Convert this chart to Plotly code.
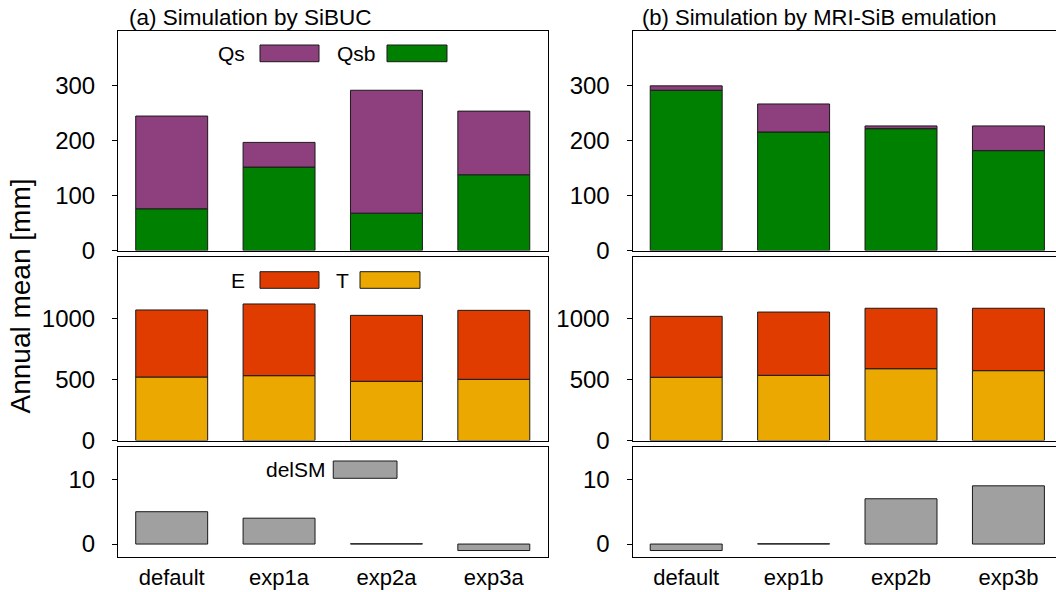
import plotly.graph_objects as go

# ---- data -----------------------------------------------------------------
cats_a = ["default", "exp1a", "exp2a", "exp3a"]
cats_b = ["default", "exp1b", "exp2b", "exp3b"]

# runoff components [mm]
qsb_a = [76, 152, 68, 138]
qs_a = [169, 45, 224, 116]
qsb_b = [292, 216, 222, 182]
qs_b = [8, 51, 5, 45]

# evaporation / transpiration [mm]
t_a = [519, 530, 484, 500]
e_a = [548, 586, 539, 564]
t_b = [517, 533, 587, 571]
e_b = [498, 517, 494, 510]

# change in soil moisture [mm]
delsm_a = [5.0, 4.0, 0.05, -1.0]
delsm_b = [-1.0, 0.05, 7.0, 9.0]

top_ticks = [0, 100, 200, 300]
mid_ticks = [0, 500, 1000]
bot_ticks = [0, 10]

# ---- style ----------------------------------------------------------------
C_QS = "#8E3F7E"
C_QSB = "#008000"
C_E = "#E03C00"
C_T = "#EAA800"
C_DSM = "#A0A0A0"
FONT = "Liberation Sans"
W, H = 1056, 592

BAR_W = 0.67
OUTLINE = dict(color="#1a1a1a", width=1)

fig = go.Figure()


def add_bar(x, y, color, xa, ya, name):
    fig.add_trace(go.Bar(
        x=x, y=y, name=name, width=BAR_W,
        marker=dict(color=color, line=OUTLINE),
        xaxis=xa, yaxis=ya, showlegend=False,
    ))


# column (a)
add_bar(cats_a, qsb_a, C_QSB, "x", "y", "Qsb")
add_bar(cats_a, qs_a, C_QS, "x", "y", "Qs")
add_bar(cats_a, t_a, C_T, "x2", "y2", "T")
add_bar(cats_a, e_a, C_E, "x2", "y2", "E")
add_bar(cats_a, delsm_a, C_DSM, "x3", "y3", "delSM")
# column (b)
add_bar(cats_b, qsb_b, C_QSB, "x4", "y4", "Qsb")
add_bar(cats_b, qs_b, C_QS, "x4", "y4", "Qs")
add_bar(cats_b, t_b, C_T, "x5", "y5", "T")
add_bar(cats_b, e_b, C_E, "x5", "y5", "E")
add_bar(cats_b, delsm_b, C_DSM, "x6", "y6", "delSM")

# ---- panel geometry (pixels -> paper) --------------------------------------
col_a = [118 / W, 547.5 / W]
col_b = [632.5 / W, 1.0]
row_top = [1 - 250.5 / H, 1 - 31 / H]
row_mid = [1 - 440.5 / H, 1 - 257 / H]
row_bot = [1 - 557 / H, 1 - 447 / H]

xrange_a = [-0.5, 3.5]
xrange_b = [-0.5, 3.443]


def xaxis(domain, anchor, rng, labels):
    return dict(
        domain=domain, anchor=anchor, range=rng, type="category",
        showline=True, linecolor="black", linewidth=1, mirror=True,
        ticks="", showticklabels=labels, showgrid=False, zeroline=False,
        tickfont=dict(family=FONT, size=22, color="black"),
        ticklabelstandoff=1, fixedrange=True, automargin=False,
    )


def yaxis(domain, anchor, rng, vals, mirror):
    return dict(
        domain=domain, anchor=anchor, range=rng,
        tickvals=vals, ticktext=[str(v) for v in vals],
        showline=True, linecolor="black", linewidth=1, mirror=mirror,
        ticks="outside", ticklen=5, tickwidth=1, tickcolor="black",
        showgrid=False, zeroline=False,
        tickfont=dict(family=FONT, size=24, color="black"),
        ticklabelstandoff=12, fixedrange=True, automargin=False,
    )


layout = dict(
    width=W, height=H,
    margin=dict(l=0, r=0, t=0, b=0, autoexpand=False),
    paper_bgcolor="white", plot_bgcolor="white",
    barmode="relative", bargap=0.33,
    showlegend=False,
    font=dict(family=FONT, color="black"),
    xaxis=xaxis(col_a, "y", xrange_a, False),
    yaxis=yaxis(row_top, "x", [0, 400], top_ticks, True),
    xaxis2=xaxis(col_a, "y2", xrange_a, False),
    yaxis2=yaxis(row_mid, "x2", [0, 1500], mid_ticks, True),
    xaxis3=xaxis(col_a, "y3", xrange_a, True),
    yaxis3=yaxis(row_bot, "x3", [-2, 15], bot_ticks, True),
    xaxis4=xaxis(col_b, "y4", xrange_b, False),
    yaxis4=yaxis(row_top, "x4", [0, 400], top_ticks, False),
    xaxis5=xaxis(col_b, "y5", xrange_b, False),
    yaxis5=yaxis(row_mid, "x5", [0, 1500], mid_ticks, False),
    xaxis6=xaxis(col_b, "y6", xrange_b, True),
    yaxis6=yaxis(row_bot, "x6", [-2, 15], bot_ticks, False),
)
fig.update_layout(**layout)

# ---- in-panel legends (swatch + label) -------------------------------------
def legend_item(ax, label, color, text_x, box_x0, box_x1, y0, y1):
    fig.add_shape(
        type="rect", xref=f"{ax[0]} domain", yref=f"{ax[1]} domain",
        x0=box_x0, x1=box_x1, y0=y0, y1=y1,
        fillcolor=color, line=dict(color="#1a1a1a", width=1),
    )
    fig.add_annotation(
        xref=f"{ax[0]} domain", yref=f"{ax[1]} domain",
        x=text_x, y=(y0 + y1) / 2, text=label, showarrow=False,
        xanchor="right", yanchor="middle",
        font=dict(family=FONT, size=21, color="black"),
    )


legend_item(("x", "y"), "Qs", C_QS, 0.300, 0.3306, 0.4680, 0.8601, 0.9362)
legend_item(("x", "y"), "Qsb", C_QSB, 0.605, 0.6263, 0.7660, 0.8601, 0.9362)
legend_item(("x2", "y2"), "E", C_E, 0.300, 0.3306, 0.4680, 0.8294, 0.9199)
legend_item(("x2", "y2"), "T", C_T, 0.542, 0.5635, 0.7031, 0.8294, 0.9199)
legend_item(("x3", "y3"), "delSM", C_DSM, 0.488, 0.5012, 0.6496, 0.7155, 0.8727)

# ---- titles ------------------------------------------------------------------
fig.add_annotation(
    xref="paper", yref="paper", x=127 / W, y=1 - 17 / H,
    text="(a) Simulation by SiBUC", showarrow=False,
    xanchor="left", yanchor="middle",
    font=dict(family=FONT, size=22.5, color="black"),
)
fig.add_annotation(
    xref="paper", yref="paper", x=640 / W, y=1 - 17 / H,
    text="(b) Simulation by MRI-SiB emulation", showarrow=False,
    xanchor="left", yanchor="middle",
    font=dict(family=FONT, size=22, color="black"),
)
fig.add_annotation(
    xref="paper", yref="paper", x=20 / W, y=1 - 296.5 / H,
    text="Annual mean [mm]", showarrow=False, textangle=-90,
    xanchor="center", yanchor="middle",
    font=dict(family=FONT, size=28, color="black"),
)

fig.write_html("out.html")
